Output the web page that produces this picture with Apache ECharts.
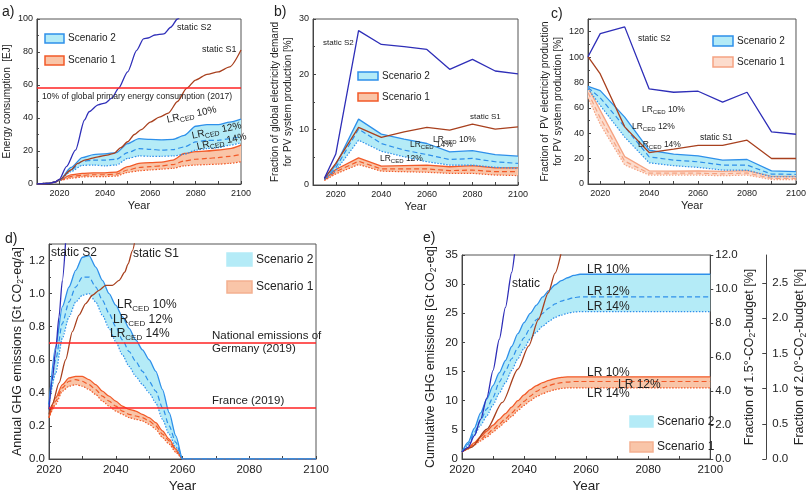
<!DOCTYPE html>
<html><head><meta charset="utf-8">
<script src="https://cdn.jsdelivr.net/npm/echarts@6/dist/echarts.min.js"></script>
<style>html,body{margin:0;padding:0;background:#fff}#c{width:809px;height:494px}</style>
</head><body><div id="c"></div>
<script>
// ---------- Panel a: energy consumption [EJ] ----------
const aS2StaticYears = [2010,2015,2018,2020,2023,2027,2031,2033,2037,2040,2043,2046,2050,2054,2057,2059,2062,2066,2069,2072,2075];
const aS2Static = [0,0.3,1.2,3,10.5,20.5,38.8,43.8,48,49,52,58,68,81,88,88.5,90.3,91,95,100,106];
const aS1StaticYears = [2010,2015,2018,2020,2025,2028,2031,2037,2041,2044,2047,2050,2053,2056,2060,2064,2068,2072,2076,2080,2085,2090,2095,2100];
const aS1Static = [0,0.3,1.2,2.6,8.5,12.5,14.5,16.5,17.5,18.6,22,25.6,30,33,37.5,40.5,43,50,58,63,66.5,68,71,81.2];
const aYears = [2010,2015,2018,2020,2025,2030,2035,2040,2045,2050,2055,2060,2065,2070,2075,2080,2085,2090,2095,2100];
const aS2Up  = [0.2,0.4,1.2,2.4,10,16,17.8,18.3,19,24.5,27.5,27,26.8,27,29.5,35,36,36,37.5,39.3];
const aS2Mid = [0.2,0.4,1.2,2.4,8.5,13.8,14.5,14.5,15,19,21.5,21,20.5,20.8,22.5,25.5,26.5,26.5,27.5,28.8];
const aS2Low = [0.2,0.4,1.2,2.4,7.5,11.3,11.5,11,11.5,15.5,17,16.8,16.8,17,18,20.5,21.5,22,23.5,25];
const aS1Up  = [0.2,0.4,1.2,2.4,5.5,6.5,6.8,6.8,7.2,10.5,12.5,13,13.3,14.5,18.5,19.6,20,20.6,21.5,23.6];
const aS1Mid = [0.2,0.4,1.2,2.3,4.5,5.3,5.6,5.6,6,8.5,10,10.5,11,11.8,14,15,15.5,16,16.8,18];
const aS1Low = [0.2,0.4,1.2,2.2,3.5,4.3,4.5,4.5,4.8,7,8,8.5,9,9.5,11,11.5,11.8,12,12.5,13.5];
const aRefLine = 58.5;

// ---------- Panel b: fraction of global electricity demand [%] ----------
const bYears = [2015,2020,2030,2040,2050,2060,2070,2080,2090,2100];
const bS2Static = [1.2,5.6,27.9,25.4,25.0,24.5,20.9,22.7,20.6,20.1];
const bS1Static = [1.2,3.9,10.4,8.6,9.6,10.4,9.9,11.0,10.1,10.5];
const bS2Up  = [1.2,3.6,11.9,9.2,8.3,7.5,6.0,6.2,5.5,5.2];
const bS2Mid = [1.1,3.1,10.1,7.5,6.3,5.5,4.6,4.8,4.2,3.9];
const bS2Low = [1.0,2.6,8.1,6.1,5.1,4.2,3.6,3.6,3.2,3.0];
const bS1Up  = [1.0,2.8,4.9,3.4,3.5,3.6,3.3,3.5,3.1,3.1];
const bS1Mid = [0.9,2.4,4.3,2.9,2.9,2.9,2.6,2.7,2.4,2.4];
const bS1Low = [0.8,2.0,3.7,2.5,2.4,2.3,2.1,2.1,1.8,1.7];

// ---------- Panel c: fraction of PV electricity production [%] ----------
const cYears = [2015,2020,2030,2040,2050,2060,2070,2080,2090,2100];
const cS2Static = [100.3,118.5,123.8,74.9,72.3,73.1,64.5,72.3,41,39.2];
const cS1Static = [100.3,86.7,45,24.8,27.4,30.5,30.5,34.5,20.1,20.1];
const cS2Up  = [77,73.6,52.7,26.6,23.5,22.2,18.8,19.3,10.4,9.7];
const cS2Mid = [76,67.9,45,21.4,18.8,17.5,14.9,14.9,7.8,7.6];
const cS2Low = [75,61.9,37,16.7,14.4,13.1,11,11,5.7,5.7];
const cS1Up  = [76,58,21.6,10.4,10.2,10.4,9.9,10.6,6,6];
const cS1Mid = [72,52,18,8.5,8.5,8.5,8,8.7,4.5,4.5];
const cS1Low = [68,47,15,7,7,7,6.5,7,3.5,3.5];

// ---------- Panel d: annual GHG emissions [Gt CO2-eq/a] ----------
const dS2StaticYears = [2020,2021,2022,2023,2024,2025];
const dS2Static = [0.3,0.48,0.66,0.86,1.08,1.32];
const dS1StaticYears = [2020,2021,2023,2025,2027,2029,2031,2033,2035,2037,2039,2041,2042.7,2043.7,2045,2046];
const dS1Static = [0.27,0.33,0.46,0.6,0.77,0.87,0.94,0.99,1.02,1.05,1.05,1.08,1.13,1.18,1.26,1.35];
const dYears = [2020,2022,2024,2026,2028,2030,2032,2034,2036,2038,2040,2042,2044,2046,2048,2050,2052,2054,2056,2058,2060,2070,2080,2090,2100];
const dS2Up  = [0.33,0.68,0.92,1.04,1.14,1.22,1.23,1.16,1.08,1.0,0.93,0.86,0.79,0.72,0.66,0.6,0.53,0.42,0.28,0.14,0,0,0,0,0];
const dS2Mid = [0.33,0.6,0.82,0.95,1.04,1.1,1.1,1.04,0.96,0.88,0.8,0.72,0.65,0.59,0.53,0.47,0.41,0.31,0.2,0.1,0,0,0,0,0];
const dS2Low = [0.33,0.52,0.73,0.86,0.95,0.99,1.0,0.95,0.87,0.79,0.71,0.63,0.56,0.5,0.45,0.4,0.34,0.24,0.15,0.07,0,0,0,0,0];
const dS1Up  = [0.25,0.37,0.45,0.49,0.5,0.5,0.48,0.45,0.41,0.38,0.35,0.32,0.3,0.29,0.27,0.25,0.22,0.17,0.12,0.06,0,0,0,0,0];
const dS1Mid = [0.25,0.35,0.43,0.47,0.48,0.47,0.45,0.42,0.38,0.35,0.32,0.29,0.27,0.26,0.25,0.23,0.2,0.15,0.11,0.05,0,0,0,0,0];
const dS1Low = [0.25,0.33,0.41,0.44,0.45,0.44,0.42,0.39,0.35,0.32,0.29,0.27,0.25,0.24,0.23,0.21,0.18,0.13,0.09,0.04,0,0,0,0,0];
const dGermany = 0.7;
const dFrance = 0.313;

// ---------- Panel e: cumulative GHG emissions [Gt CO2-eq] ----------
const eStaticYears = [2020,2022,2024,2026,2028,2030,2032,2034,2036,2037];
const eStatic = [1.2,2.0,4.0,6.8,10.5,15.2,20.5,26,32,35.5];
const eS1StaticYears = [2020,2023,2028,2033,2038,2041.5,2044.6,2047.8,2050,2052];
const eS1Static = [1.2,2,5.1,9.7,15.4,19.4,23.9,28.5,31.9,35.5];
const eYears = [2020,2022,2024,2026,2028,2030,2032,2034,2036,2038,2040,2042,2044,2046,2048,2050,2052,2054,2056,2058,2060,2070,2080,2090,2100];
const eS2Up  = [1.2,2.9,5.3,7.9,10.3,12.6,14.8,16.9,19.3,21.5,23.4,25,26.4,27.8,28.9,29.9,30.6,31.1,31.5,31.7,31.7,31.7,31.7,31.7,31.7];
const eS2Mid = [1.2,2.6,4.6,6.7,8.6,10.6,13.2,15.1,17.2,19.1,20.8,22.5,23.9,25,25.9,26.6,27.1,27.4,27.7,27.8,27.8,27.8,27.8,27.8,27.8];
const eS2Low = [1.2,2.4,4.1,5.8,7.4,9.3,11.3,13.1,15.2,17.2,19,20.6,21.8,22.8,23.6,24.3,24.7,25,25.2,25.3,25.3,25.3,25.3,25.3,25.3];
const eS1Up  = [1.2,1.9,2.8,3.8,4.8,5.8,6.8,7.8,8.9,10,11,11.9,12.6,13.1,13.5,13.8,14,14.1,14.1,14.1,14.1,14.1,14.1,14.1,14.1];
const eS1Mid = [1.2,1.8,2.6,3.4,4.2,5.1,6.0,6.9,7.9,8.9,9.9,10.8,11.6,12.2,12.6,12.9,13.1,13.2,13.3,13.3,13.3,13.3,13.3,13.3,13.3];
const eS1Low = [1.2,1.7,2.4,3.1,3.8,4.6,5.5,6.4,7.3,8.3,9.2,10.0,10.7,11.2,11.6,11.9,12.1,12.2,12.2,12.2,12.2,12.2,12.2,12.2,12.2];

// ---------- styling ----------
const FONT = 'Liberation Sans, Arial, sans-serif';
const C_S2STATIC = '#2e2eb8';
const C_S1STATIC = '#a8401e';
const C_S2LINE = '#2e90ea';
const C_S2FILL = '#b4ebf7';
const C_S1LINE = '#f25a28';
const C_S1FILL = '#f9c5a8';
const C_S1LINE_C = '#f5a382';
const C_S1FILL_C = '#fcdccd';
const C_REF = '#ff2222';
const TXT = '#222';
const SMOOTH = 0.25;

const zip = (xs, ys) => xs.map((x, i) => [x, ys[i]]);

function band(xi, yi, xs, up, mid, low, line, fill, smooth) {
  const base = {type: 'line', xAxisIndex: xi, yAxisIndex: yi, symbol: 'none', silent: true,
    animation: false, smooth: smooth ? SMOOTH : false, smoothMonotone: 'x'};
  return [
    {type: 'custom', xAxisIndex: xi, yAxisIndex: yi, silent: true, animation: false, clip: true,
     data: xs.map((x, i) => [x, up[i], low[i]]),
     encode: {x: 0, y: [1, 2]},
     renderItem: function (params, api) {
       if (params.dataIndex !== 0) return null;
       const top = xs.map((x, i) => api.coord([x, up[i]]));
       const bot = xs.map((x, i) => api.coord([x, low[i]])).reverse();
       return {type: 'polygon', shape: {points: top.concat(bot)}, style: {fill: fill, stroke: null}};
     }},
    Object.assign({}, base, {data: zip(xs, up), lineStyle: {color: line, width: 1.3}}),
    Object.assign({}, base, {data: zip(xs, mid), lineStyle: {color: line, width: 1.2, type: [5, 3]}}),
    Object.assign({}, base, {data: zip(xs, low), lineStyle: {color: line, width: 1.2, type: [1.5, 1.5]}})
  ];
}
function sline(xi, yi, xs, ys, color, smooth, extra) {
  return Object.assign({type: 'line', xAxisIndex: xi, yAxisIndex: yi, symbol: 'none', silent: true,
    animation: false, smooth: smooth ? SMOOTH : false, smoothMonotone: 'x',
    data: zip(xs, ys), lineStyle: {color: color, width: 1.3}}, extra || {});
}
function refLines(values) {
  return {silent: true, symbol: 'none', label: {show: false}, animation: false,
    lineStyle: {color: C_REF, width: 1.5, type: 'solid'},
    data: values.map(v => ({yAxis: v}))};
}

const series = [].concat(
  band(0, 0, aYears, aS1Up, aS1Mid, aS1Low, C_S1LINE, C_S1FILL, true),
  band(0, 0, aYears, aS2Up, aS2Mid, aS2Low, C_S2LINE, C_S2FILL, true),
  [sline(0, 0, aS1StaticYears, aS1Static, C_S1STATIC, true),
   sline(0, 0, aS2StaticYears, aS2Static, C_S2STATIC, true, {markLine: refLines([aRefLine])})],
  band(1, 1, bYears, bS1Up, bS1Mid, bS1Low, C_S1LINE, C_S1FILL, false),
  band(1, 1, bYears, bS2Up, bS2Mid, bS2Low, C_S2LINE, C_S2FILL, false),
  [sline(1, 1, bYears, bS1Static, C_S1STATIC, false),
   sline(1, 1, bYears, bS2Static, C_S2STATIC, false)],
  band(2, 2, cYears, cS1Up, cS1Mid, cS1Low, C_S1LINE_C, C_S1FILL_C, false),
  band(2, 2, cYears, cS2Up, cS2Mid, cS2Low, C_S2LINE, C_S2FILL, false),
  [sline(2, 2, cYears, cS1Static, C_S1STATIC, false),
   sline(2, 2, cYears, cS2Static, C_S2STATIC, false)],
  band(3, 3, dYears, dS1Up, dS1Mid, dS1Low, C_S1LINE, C_S1FILL, true),
  band(3, 3, dYears, dS2Up, dS2Mid, dS2Low, C_S2LINE, C_S2FILL, true),
  [sline(3, 3, dS1StaticYears, dS1Static, C_S1STATIC, true),
   sline(3, 3, dS2StaticYears, dS2Static, C_S2STATIC, true, {markLine: refLines([dGermany, dFrance])})],
  band(4, 4, eYears, eS1Up, eS1Mid, eS1Low, C_S1LINE, C_S1FILL, true),
  band(4, 4, eYears, eS2Up, eS2Mid, eS2Low, C_S2LINE, C_S2FILL, true),
  [sline(4, 4, eS1StaticYears, eS1Static, C_S1STATIC, true),
   sline(4, 4, eStaticYears, eStatic, C_S2STATIC, true)]
);

// ---------- axes ----------
function xAx(g, min, fs, gap, labels, ticks) {
  return {type: 'value', gridIndex: g, min: min, max: 2100, interval: 10,
    name: 'Year', nameLocation: 'middle', nameGap: gap,
    nameTextStyle: {fontFamily: FONT, fontSize: fs + 2, color: TXT},
    axisLine: {lineStyle: {color: '#444', width: 1}},
    axisTick: {inside: true, length: 3, lineStyle: {color: '#444'}, customValues: ticks},
    axisLabel: {fontFamily: FONT, fontSize: fs, color: TXT, margin: 5, customValues: labels,
      formatter: v => (v % 20 === 0 ? String(v) : '')},
    splitLine: {show: false}};
}
const yearLabels = [2020, 2040, 2060, 2080, 2100];
const yearTicks10 = [2010, 2020, 2030, 2040, 2050, 2060, 2070, 2080, 2090, 2100];
const yearTicksC = [2020, 2030, 2040, 2050, 2060, 2070, 2080, 2090, 2100];

function yAx(g, max, interval, fs, name, gap, opts) {
  const o = {type: 'value', gridIndex: g, min: 0, max: max, interval: interval,
    name: name, nameLocation: 'middle', nameGap: gap, nameRotate: 90,
    nameTextStyle: {fontFamily: FONT, fontSize: fs + 1, color: TXT, lineHeight: fs + 4,
      rich: {s: {fontFamily: FONT, fontSize: fs - 3, color: TXT, padding: [7, 0, 0, 0]}}},
    axisLine: {show: true, lineStyle: {color: '#444', width: 1}},
    axisTick: {show: true, inside: true, length: 3, lineStyle: {color: '#444'}},
    minorTick: {show: true, splitNumber: 2, length: 2, lineStyle: {color: '#444'}},
    axisLabel: {fontFamily: FONT, fontSize: fs, color: TXT, margin: 4},
    splitLine: {show: false}};
  return Object.assign(o, opts || {});
}

const gridBase = {show: true, borderColor: '#555', borderWidth: 1, backgroundColor: 'transparent', containLabel: false};

// ---------- graphics: titles, legends, annotations ----------
const gfx = [];
function txt(x, y, s, fs, extra) {
  gfx.push(Object.assign({type: 'text', x: x, y: y, silent: true, z: 100,
    style: Object.assign({text: s, fontFamily: FONT, fontSize: fs, fill: TXT, align: 'left', verticalAlign: 'middle',
      rich: {s: {fontFamily: FONT, fontSize: Math.round(fs * 0.68), fill: TXT, padding: [Math.round(fs * 0.55), 0, 0, 0]},
             n: {fontFamily: FONT, fontSize: fs, fill: TXT}}}, extra && extra.style || {})},
    extra && extra.el || {}));
}
function legendBox(x, y, w, h, fill, stroke, label, fs) {
  gfx.push({type: 'rect', silent: true, z: 100, shape: {x: x, y: y, width: w, height: h},
    style: {fill: fill, stroke: stroke, lineWidth: 1.5}});
  txt(x + w + 4, y + h / 2, label, fs);
}
txt(2, 12, 'a)', 14); txt(274, 12, 'b)', 14); txt(551, 14, 'c)', 14);
txt(5, 239, 'd)', 14); txt(423, 238, 'e)', 14);
legendBox(45, 34, 19, 9, C_S2FILL, C_S2LINE, 'Scenario 2', 10);
legendBox(45, 56, 19, 9, C_S1FILL, C_S1LINE, 'Scenario 1', 10);
legendBox(358, 72, 20, 8, C_S2FILL, C_S2LINE, 'Scenario 2', 10);
legendBox(358, 93, 20, 8, C_S1FILL, C_S1LINE, 'Scenario 1', 10);
legendBox(713, 36, 20, 10, C_S2FILL, C_S2LINE, 'Scenario 2', 10);
legendBox(713, 57, 20, 10, C_S1FILL_C, C_S1LINE_C, 'Scenario 1', 10);
legendBox(227, 253, 25, 13, C_S2FILL, C_S2FILL, 'Scenario 2', 12);
legendBox(227, 281, 25, 12, C_S1FILL, '#f4b090', 'Scenario 1', 12);
legendBox(630, 416, 23, 11, C_S2FILL, C_S2FILL, 'Scenario 2', 12);
legendBox(630, 442, 23, 10, C_S1FILL, '#f4b090', 'Scenario 1', 12);
txt(177, 28, 'static S2', 9); txt(202, 50, 'static S1', 9);
txt(42, 97, '10% of global primary energy consumption (2017)', 8.6);
txt(167, 120, 'LR{s|CED} 10%', 10, {el: {rotation: 0.21}});
txt(192, 136, 'LR{s|CED} 12%', 10, {el: {rotation: 0.21}});
txt(197, 147, 'LR{s|CED} 14%', 10, {el: {rotation: 0.21}});
txt(323, 43, 'static S2', 8); txt(470, 117, 'static S1', 8);
txt(433, 140, 'LR{s|CED} 10%', 8.5); txt(410, 145, 'LR{s|CED} 14%', 8.5); txt(380, 159, 'LR{s|CED} 12%', 8.5);
txt(638, 39, 'static S2', 8.5); txt(700, 138, 'static S1', 8.5);
txt(642, 110, 'LR{s|CED} 10%', 8.5); txt(632, 127, 'LR{s|CED} 12%', 8.5); txt(638, 145, 'LR{s|CED} 14%', 8.5);
txt(51, 253, 'static S2', 12); txt(133, 254, 'static S1', 12);
txt(117, 305, 'LR{s|CED} 10%', 12); txt(113, 320, 'LR{s|CED} 12%', 12); txt(110, 334, 'LR{s|CED} 14%', 12);
txt(212, 336, 'National emissions of', 11.5); txt(212, 349, 'Germany (2019)', 11.5);
txt(212, 401, 'France (2019)', 11.5);
txt(512, 284, 'static', 12);
txt(587, 270, 'LR 10%', 12); txt(587, 292, 'LR 12%', 12); txt(587, 307, 'LR 14%', 12);
txt(587, 373, 'LR 10%', 12); txt(618, 385, 'LR 12%', 12); txt(587, 394, 'LR 14%', 12);

const option = {
  backgroundColor: '#fff',
  animation: false,
  grid: [
    Object.assign({left: 35, top: 19, width: 206, height: 165}, gridBase),
    Object.assign({left: 313, top: 19, width: 205, height: 166}, gridBase),
    Object.assign({left: 588, top: 19, width: 208, height: 165}, gridBase),
    Object.assign({left: 49, top: 244, width: 267, height: 215}, gridBase),
    Object.assign({left: 462, top: 255, width: 254, height: 205}, gridBase)
  ],
  xAxis: [
    xAx(0, 2010, 9, 16, yearLabels, yearTicks10),
    xAx(1, 2010, 9, 16, yearLabels, yearTicks10),
    Object.assign(xAx(2, 2015, 9, 16, yearLabels, yearTicksC), {interval: 5}),
    Object.assign(xAx(3, 2020, 11.5, 20, yearLabels, yearTicksC), {interval: 10}),
    Object.assign(xAx(4, 2020, 11.5, 20, yearLabels, yearTicksC), {interval: 10})
  ],
  yAxis: [
    yAx(0, 100, 20, 9, 'Energy consumption  [EJ]', 14),
    yAx(1, 30, 10, 9, 'Fraction of global electricity demand\nfor PV system production [%]', 9),
    yAx(2, 130, 20, 9, 'Fraction of  PV electricity production\nfor PV system production [%]', 18,
      {axisLabel: {fontFamily: FONT, fontSize: 9, color: TXT, margin: 4, showMaxLabel: false}}),
    yAx(3, 1.3, 0.2, 11.5, 'Annual GHG emissions [Gt CO{s|2}-eq/a]', 22,
      {axisLabel: {fontFamily: FONT, fontSize: 11.5, color: TXT, margin: 4, showMaxLabel: false,
        formatter: v => v.toFixed(1)}}),
    yAx(4, 35, 5, 11.5, 'Cumulative GHG emissions [Gt CO{s|2}-eq]', 24, {minorTick: {show: false}}),
    yAx(4, 12, 2, 11.5, 'Fraction of 1.5°-CO{s|2}-budget [%]', 30,
      {position: 'right', offset: 0, minorTick: {show: false},
       axisTick: {show: true, inside: false, length: 3, lineStyle: {color: '#444'}},
       axisLabel: {fontFamily: FONT, fontSize: 11.5, color: TXT, margin: 5, formatter: v => v.toFixed(1)}}),
    yAx(4, 2.9, 0.5, 11.5, 'Fraction of 2.0°-CO{s|2}-budget [%]', 26,
      {position: 'right', offset: 56, minorTick: {show: false},
       axisTick: {show: true, inside: true, length: 4, lineStyle: {color: '#444'}},
       axisLabel: {fontFamily: FONT, fontSize: 11.5, color: TXT, margin: 6, showMaxLabel: false,
         formatter: v => v.toFixed(1)}})
  ],
  series: series,
  graphic: gfx
};

const chart = echarts.init(document.getElementById('c'), null, {renderer: 'canvas'});
chart.setOption(option);
</script></body></html>
